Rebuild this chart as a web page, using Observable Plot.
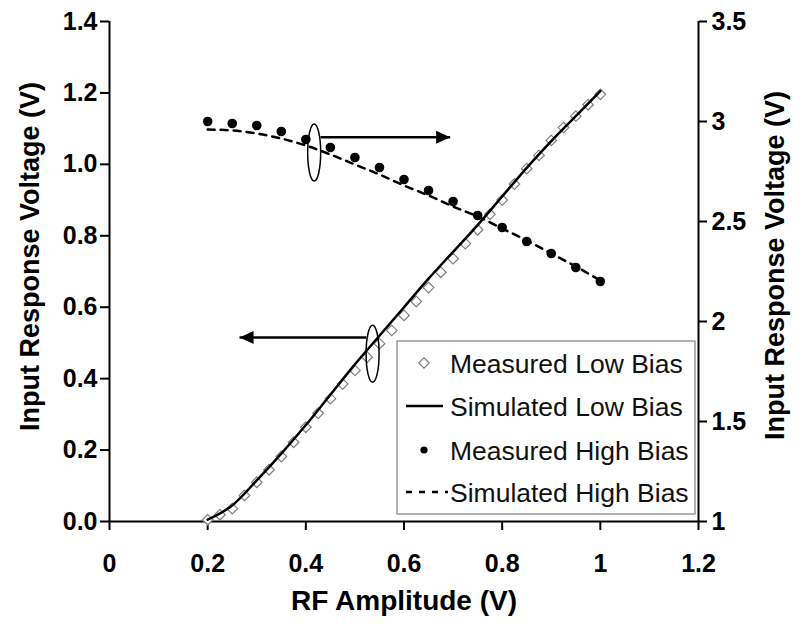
<!DOCTYPE html>
<html><head><meta charset="utf-8">
<script src="https://cdn.jsdelivr.net/npm/d3@7"></script>
<script src="https://cdn.jsdelivr.net/npm/@observablehq/plot@0.6"></script>
<style>
body{margin:0;background:#fff;}
#chart{width:803px;height:629px;}
</style></head><body><div id="chart"></div>
<script>
// ---- data ----
const xLow = [0.2,0.225,0.25,0.275,0.3,0.325,0.35,0.375,0.4,0.425,0.45,0.475,0.5,0.525,0.55,0.575,0.6,0.625,0.65,0.675,0.7,0.725,0.75,0.775,0.8,0.825,0.85,0.875,0.9,0.925,0.95,0.975,1.0];
const measuredLow = [0.005,0.019,0.036,0.073,0.110,0.145,0.182,0.222,0.264,0.303,0.344,0.385,0.423,0.460,0.498,0.535,0.577,0.616,0.655,0.698,0.736,0.778,0.817,0.860,0.900,0.945,0.988,1.025,1.067,1.103,1.135,1.167,1.196];
const xHigh = [0.2,0.25,0.3,0.35,0.4,0.45,0.5,0.55,0.6,0.65,0.7,0.75,0.8,0.85,0.9,0.95,1.0];
const simulatedLow = [0.005,0.045,0.115,0.19,0.27,0.355,0.44,0.52,0.60,0.68,0.755,0.83,0.91,0.99,1.065,1.135,1.205];
const measuredHigh = [3.00,2.99,2.98,2.95,2.91,2.87,2.82,2.77,2.71,2.655,2.60,2.53,2.47,2.40,2.34,2.27,2.20];
const simulatedHigh = [2.96,2.955,2.94,2.915,2.88,2.835,2.785,2.735,2.68,2.63,2.575,2.525,2.465,2.405,2.34,2.275,2.205];

const xTicks = [0,0.2,0.4,0.6,0.8,1.0,1.2];
const xTickLabels = ["0","0.2","0.4","0.6","0.8","1","1.2"];
const yLeftTicks = [0,0.2,0.4,0.6,0.8,1.0,1.2,1.4];
const yLeftLabels = ["0.0","0.2","0.4","0.6","0.8","1.0","1.2","1.4"];
const yRightTicks = [1,1.5,2,2.5,3,3.5];
const yRightLabels = ["1","1.5","2","2.5","3","3.5"];
const legendLabels = ["Measured Low Bias","Simulated Low Bias","Measured High Bias","Simulated High Bias"];
const xTitle = "RF Amplitude (V)";
const yTitle = "Input Response Voltage (V)";

// annotation anchors (left-axis units)
const ellipseX = [0.417, 0.536];
const ellipseY = [1.033, 0.47];
const arrowX1 = [0.43, 0.523];
const arrowX2 = [0.694, 0.265];
const arrowY = [1.076, 0.515];

// ---- helpers ----
const rightMin = 1, rightMax = 3.5, leftMax = 1.4;
const toLeft = v => (v - rightMin) * leftMax / (rightMax - rightMin);
const rightPos = yRightTicks.map(toLeft);

const lowPts = xLow.map((x, i) => ({x, y: measuredLow[i]}));
const simLowPts = xHigh.map((x, i) => ({x, y: simulatedLow[i]}));
const measHighPts = xHigh.map((x, i) => ({x, y: toLeft(measuredHigh[i])}));
const simHighPts = xHigh.map((x, i) => ({x, y: toLeft(simulatedHigh[i])}));
const ellipses = ellipseX.map((x, i) => ({x, y: ellipseY[i]}));
const arrows = arrowX1.map((x1, i) => ({x1, x2: arrowX2[i], y: arrowY[i]}));

const ellipseSym = {draw(ctx) {
  const rx = 6.5, ry = 28.5, k = 0.5523;
  ctx.moveTo(rx, 0);
  ctx.bezierCurveTo(rx, k*ry, k*rx, ry, 0, ry);
  ctx.bezierCurveTo(-k*rx, ry, -rx, k*ry, -rx, 0);
  ctx.bezierCurveTo(-rx, -k*ry, -k*rx, -ry, 0, -ry);
  ctx.bezierCurveTo(k*rx, -ry, rx, -k*ry, rx, 0);
  ctx.closePath();
}};
const headSym = {draw(ctx) {
  ctx.moveTo(0, 0);
  ctx.lineTo(-14, -6.5);
  ctx.lineTo(-14, 6.5);
  ctx.closePath();
}};

const F = "'Liberation Sans', Arial, sans-serif";

function legend() {
  const g = d3.create("svg:g");
  const x0 = 397, y0 = 341, w = 298, h = 173;
  g.append("rect").attr("x", x0).attr("y", y0).attr("width", w).attr("height", h)
    .attr("fill", "white").attr("stroke", "#808080").attr("stroke-width", 1.2);
  const rows = [363, 406, 450, 492];
  const mx = 424;
  g.append("path").attr("transform", `translate(${mx},${rows[0]})`)
    .attr("d", d3.symbol(d3.symbolDiamond2, 70)())
    .attr("fill", "white").attr("stroke", "#808080").attr("stroke-width", 1.2);
  g.append("line").attr("x1", 406).attr("x2", 443).attr("y1", rows[1]).attr("y2", rows[1])
    .attr("stroke", "black").attr("stroke-width", 2.5);
  g.append("circle").attr("cx", mx).attr("cy", rows[2]).attr("r", 3.6).attr("fill", "black");
  g.append("line").attr("x1", 406).attr("x2", 448).attr("y1", rows[3]).attr("y2", rows[3])
    .attr("stroke", "black").attr("stroke-width", 2.5).attr("stroke-dasharray", "6,7");
  legendLabels.forEach((t, i) => {
    g.append("text").attr("x", 450).attr("y", rows[i]).attr("dy", "0.36em")
      .attr("text-anchor", "start")
      .attr("font-family", F).attr("font-size", 26.5).attr("fill", "#111").text(t);
  });
  return g.node();
}

const plot = Plot.plot({
  width: 803, height: 629,
  marginLeft: 109, marginRight: 105, marginTop: 21, marginBottom: 108,
  x: {domain: [0, 1.2]},
  y: {domain: [0, 1.4]},
  style: {fontFamily: F, background: "white", color: "black", overflow: "visible"},
  marks: [
    Plot.axisX(xTicks, {tickSize: 9, tickPadding: 24, strokeWidth: 2, fontSize: 25, fontWeight: "bold",
      tickFormat: d => xTickLabels[xTicks.indexOf(d)], label: null}),
    Plot.axisY(yLeftTicks, {anchor: "left", tickSize: 9, tickPadding: 3, strokeWidth: 2, fontSize: 25, fontWeight: "bold",
      tickFormat: d => yLeftLabels[yLeftTicks.indexOf(d)], label: null}),
    Plot.axisY(rightPos, {anchor: "right", tickSize: 8, tickPadding: 5, strokeWidth: 2, fontSize: 25, fontWeight: "bold",
      tickFormat: d => yRightLabels[rightPos.indexOf(d)], label: null}),
    Plot.ruleY([0], {stroke: "black", strokeWidth: 2}),
    Plot.ruleX([0, 1.2], {stroke: "black", strokeWidth: 2}),
    Plot.text([xTitle], {frameAnchor: "bottom", dy: 88, fontSize: 28, fontWeight: "bold", fill: "black"}),
    Plot.text([yTitle], {frameAnchor: "left", textAnchor: "middle", dx: -79, dy: -15, rotate: -90, fontSize: 27, fontWeight: "bold", fill: "black"}),
    Plot.text([yTitle], {frameAnchor: "right", textAnchor: "middle", dx: 77, dy: -6, rotate: -90, fontSize: 27, fontWeight: "bold", fill: "black"}),
    Plot.dot(lowPts, {x: "x", y: "y", symbol: "diamond2", r: 4.8, stroke: "#808080", fill: "white", strokeWidth: 1.2}),
    Plot.line(simLowPts, {x: "x", y: "y", stroke: "black", strokeWidth: 2.5, curve: "monotone-x"}),
    Plot.line(simHighPts, {x: "x", y: "y", stroke: "black", strokeWidth: 2.5, strokeDasharray: "7,6", curve: "monotone-x"}),
    Plot.dot(measHighPts, {x: "x", y: "y", r: 4.8, fill: "black", stroke: "none"}),
    Plot.link(arrows, {x1: "x1", x2: "x2", y1: "y", y2: "y", stroke: "black", strokeWidth: 2.5}),
    Plot.dot(arrows, {x: "x2", y: "y", symbol: headSym, r: 5, fill: "black", stroke: "none",
      rotate: d => (d.x2 > d.x1 ? 0 : 180)}),
    Plot.dot(ellipses, {x: "x", y: "y", symbol: ellipseSym, r: 5, fill: "none", stroke: "black", strokeWidth: 1.5}),
    legend
  ]
});
document.getElementById("chart").appendChild(plot);
</script>
</body></html>
